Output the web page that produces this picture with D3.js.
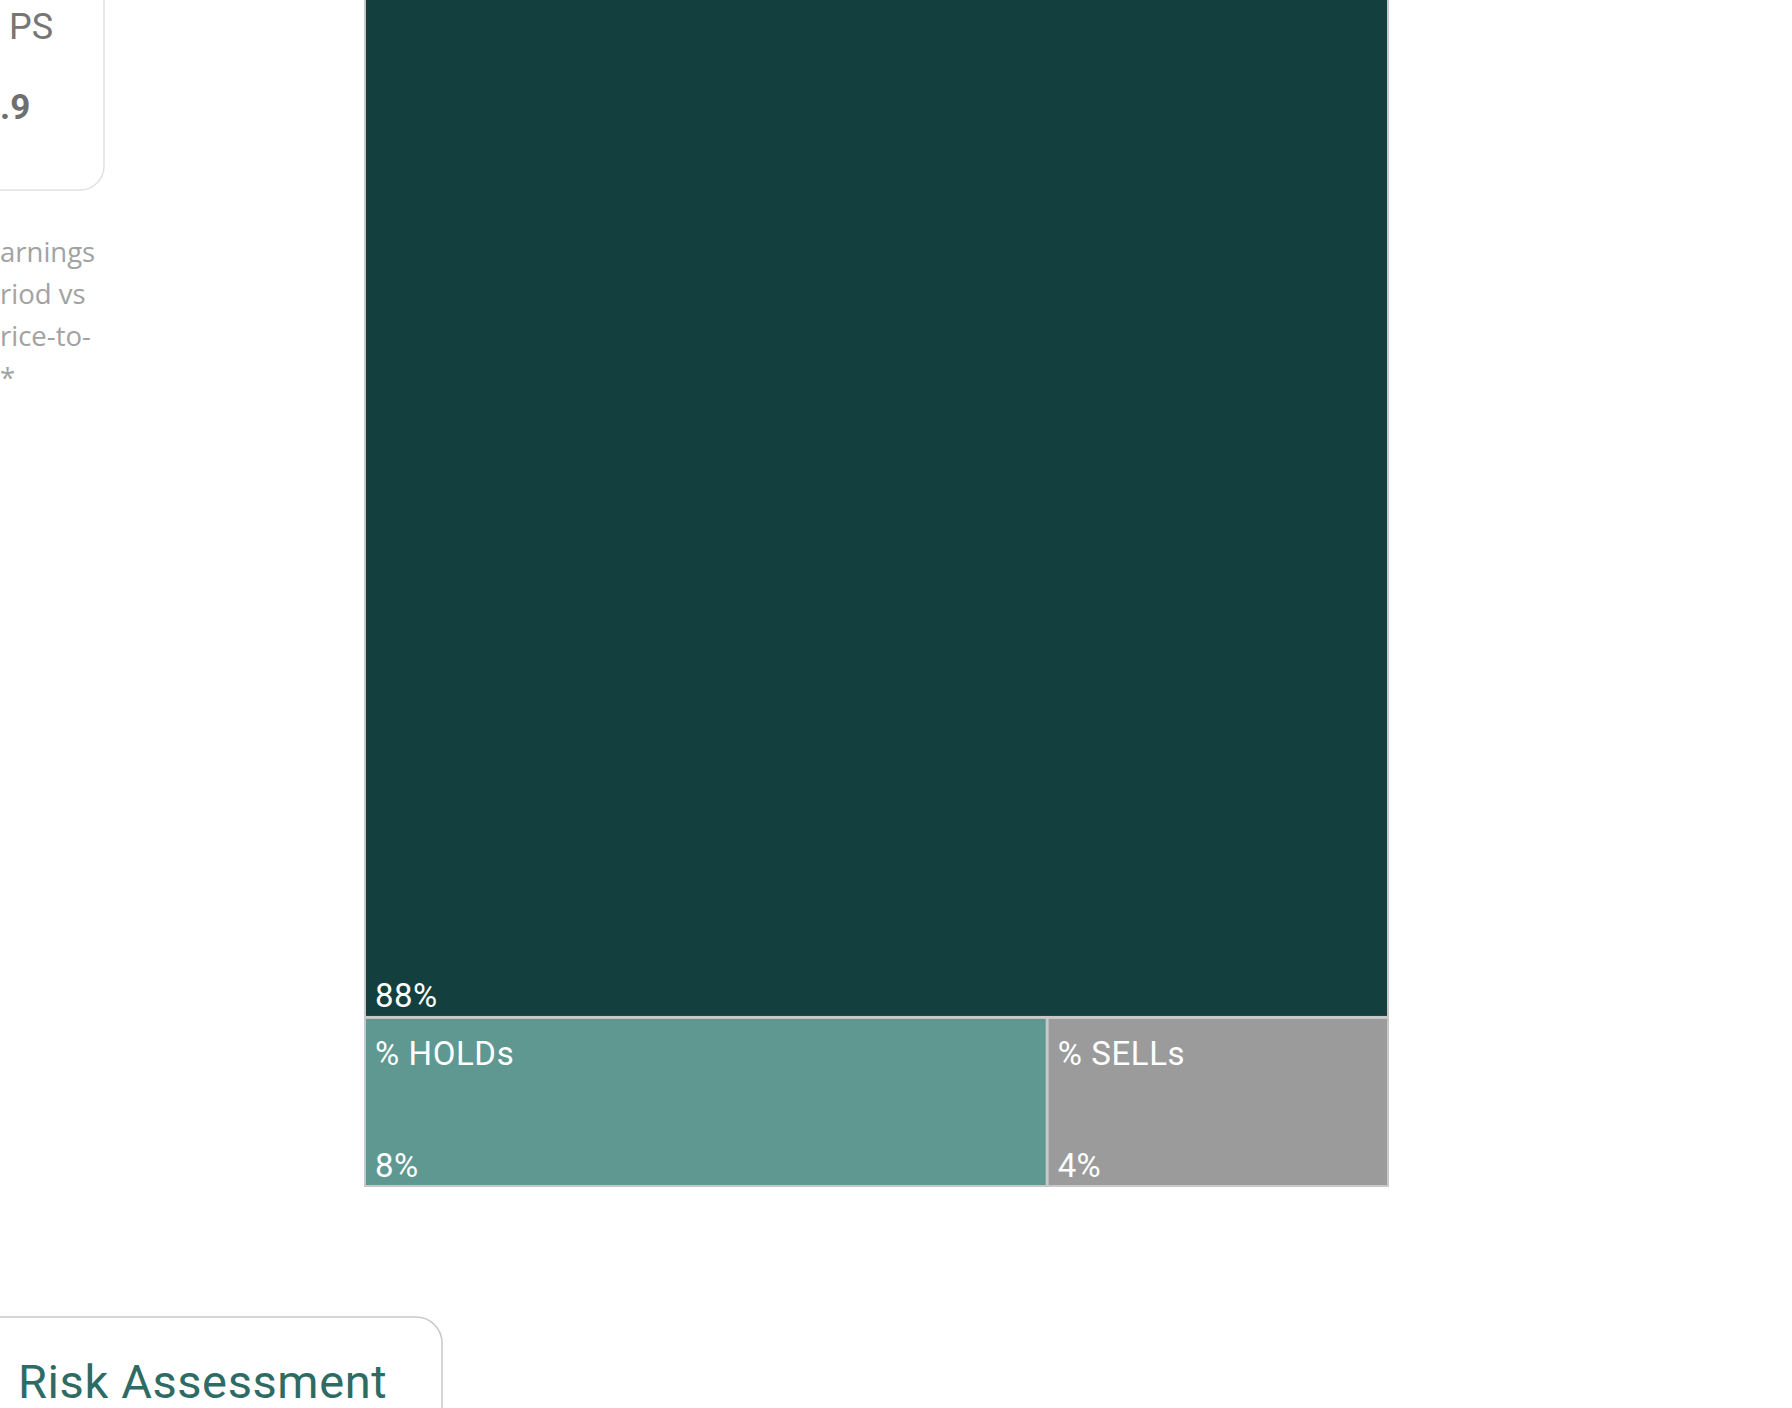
<!DOCTYPE html>
<html>
<head>
<meta charset="utf-8">
<script src="https://cdn.jsdelivr.net/npm/d3@7"></script>
<style>
  html, body { margin: 0; padding: 0; background: #ffffff; overflow: hidden; }
  svg { display: block; }
</style>
</head>
<body>
<svg id="chart" width="1792" height="1408"></svg>
<script>
// ---- data ----
const categories = ["% BUYs", "% HOLDs", "% SELLs"];
const shares = [88, 8, 4];
const valueLabels = ["88%", "8%", "4%"];
const sideLines = ["arnings", "riod vs", "rice-to-", "*"];

// ---- styles ----
const fillScale = d3.scaleOrdinal().domain(categories).range(["#143F3F", "#5E9890", "#9B9B9B"]);

const svg = d3.select("#chart");

// ---- left KPI card (clipped) ----
const card = svg.append("g");
card.append("rect")
  .attr("x", -60).attr("y", -60).attr("width", 164).attr("height", 250)
  .attr("rx", 24).attr("fill", "#fff").attr("stroke", "#e1e1e1").attr("stroke-width", 1.5);
card.append("text").attr("x", 9).attr("y", 39)
  .attr("font-family", "Roboto, 'Open Sans', sans-serif").attr("font-size", 36)
  .attr("fill", "#767676").text("PS");
card.append("text").attr("x", 0).attr("y", 119)
  .attr("font-family", "Roboto, 'Open Sans', sans-serif").attr("font-size", 35).attr("font-weight", 700)
  .attr("fill", "#6f6f6f").text(".9");

const sideY = d3.scalePoint().domain(d3.range(sideLines.length)).range([262, 388]);
svg.append("g").selectAll("text").data(sideLines).join("text")
  .attr("x", 0).attr("y", (d, i) => sideY(i))
  .attr("font-family", "'Open Sans', 'Noto Sans', sans-serif").attr("font-size", 27.5)
  .attr("fill", "#a2a2a2").text(d => d);

// ---- treemap ----
const outer = { x: 364, y: -223, w: 1025, h: 1410 };
const root = d3.hierarchy({ children: categories.map((c, i) => ({ name: c, value: shares[i], label: valueLabels[i] })) })
  .sum(d => d.value || 0);
d3.treemap().tile(d3.treemapBinary).size([outer.w, outer.h]).paddingOuter(2).paddingInner(3)(root);

const tm = svg.append("g").attr("transform", `translate(${outer.x},${outer.y})`);
tm.append("rect").attr("x", 0).attr("y", 0).attr("width", outer.w).attr("height", outer.h)
  .attr("fill", "#c8c8c8");

const cells = tm.selectAll("g.cell").data(root.leaves()).join("g").attr("class", "cell");
cells.append("rect")
  .attr("x", d => d.x0).attr("y", d => d.y0)
  .attr("width", d => d.x1 - d.x0).attr("height", d => d.y1 - d.y0)
  .attr("fill", d => fillScale(d.data.name));
// category labels (only where they fall inside the visible page)
cells.filter(d => outer.y + d.y0 + 46 > 30).append("text")
  .attr("x", d => d.x0 + 9).attr("y", d => d.y0 + 46)
  .attr("font-family", "Roboto, 'Open Sans', sans-serif").attr("font-size", 33)
  .attr("letter-spacing", 0.6)
  .attr("fill", "#ffffff").text(d => d.data.name);
cells.append("text")
  .attr("x", d => d.x0 + 9).attr("y", d => d.y1 - 8.5)
  .attr("font-family", "Roboto, 'Open Sans', sans-serif").attr("font-size", 33)
  .attr("letter-spacing", 0.4)
  .attr("fill", "#ffffff").text(d => d.data.label);

// ---- bottom card ----
const card2 = svg.append("g");
card2.append("rect")
  .attr("x", -60).attr("y", 1317).attr("width", 502).attr("height", 200)
  .attr("rx", 26).attr("fill", "#fff").attr("stroke", "#c9c9c9").attr("stroke-width", 1.5);
card2.append("text").attr("x", 18).attr("y", 1398)
  .attr("font-family", "Roboto, 'Open Sans', sans-serif").attr("font-size", 47)
  .attr("letter-spacing", 0.6)
  .attr("fill", "#2E6B64").text("Risk Assessment");
</script>
</body>
</html>
